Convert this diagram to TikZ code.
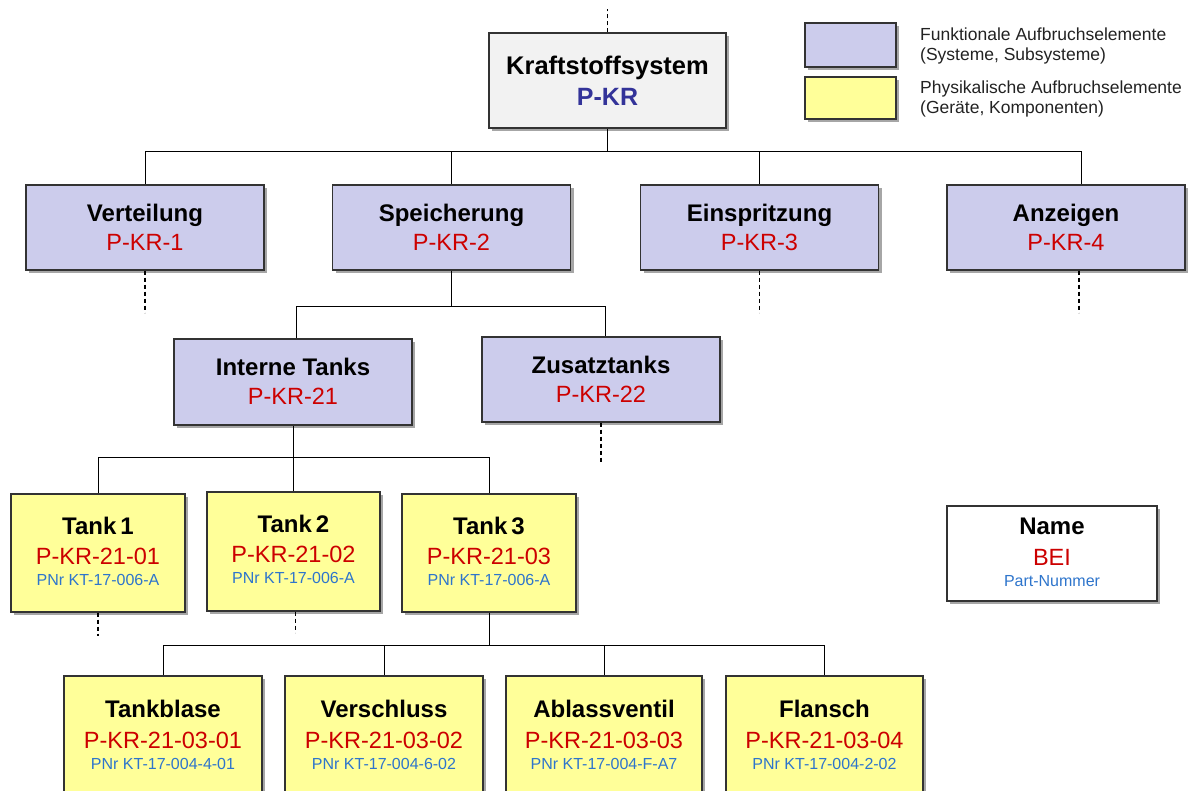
\documentclass[tikz,border=0pt]{standalone}
\usepackage{fontspec}
\setmainfont{Liberation Sans}
\usetikzlibrary{shadows}

\definecolor{lav}{RGB}{204,204,236}
\definecolor{yel}{RGB}{255,255,153}
\definecolor{lightgray}{RGB}{242,242,242}
\definecolor{edge}{RGB}{51,51,51}
\definecolor{codered}{RGB}{204,0,0}
\definecolor{navy}{RGB}{51,51,153}
\definecolor{pnblue}{RGB}{46,117,204}
\definecolor{legendtext}{RGB}{34,34,34}

\begin{document}
\begin{tikzpicture}[x=1pt,y=-1pt,
  boxbase/.style={draw=edge, line width=1.3pt, inner sep=0pt,
    drop shadow={shadow xshift=3pt, shadow yshift=-3pt, opacity=0.35, fill=black}},
  rootbox/.style={boxbase, fill=lightgray, minimum width=237pt, minimum height=95pt},
  funcbox/.style={boxbase, fill=lav, minimum width=238pt, minimum height=85pt},
  physbox/.style={boxbase, fill=yel, minimum width=174pt, minimum height=118pt},
  partbox/.style={boxbase, fill=yel, minimum width=198pt, minimum height=118pt},
  keybox/.style={boxbase, fill=white, minimum width=210pt, minimum height=95pt},
  swatch/.style={boxbase, minimum width=91pt},
  ttl/.style={anchor=base, inner sep=0pt, font=\fontsize{24}{28}\selectfont\bfseries},
  code/.style={anchor=base, inner sep=0pt, text=codered, font=\fontsize{23.5}{28}\selectfont},
  pnr/.style={anchor=base, inner sep=0pt, text=pnblue, font=\fontsize{16}{19}\selectfont},
  legend/.style={anchor=base west, inner sep=0pt, text=legendtext, font=\fontsize{17.5}{20}\selectfont},
  link/.style={draw=black, line width=1pt},
  stub/.style={draw=black, line width=1.1pt, dash pattern=on 4pt off 3pt}
]
\clip (0,0) rectangle (1192,791);

% ---------- root ----------
\node[rootbox] (kr) at (607.5,80.5) {};
\node[ttl, font=\fontsize{25.5}{30}\selectfont\bfseries] (kr-t) at ([yshift=-42pt]kr.north) {Kraftstoffsystem};
\node[ttl, text=navy, font=\fontsize{25}{30}\selectfont\bfseries] (kr-c) at ([yshift=-73pt]kr.north) {P-KR};

% ---------- level 1 ----------
\node[funcbox] (vert) at (145,227.5) {};
\node[funcbox] (spei) at (451.5,227.5) {};
\node[funcbox] (einsp) at (759.5,227.5) {};
\node[funcbox] (anz) at (1066,227.5) {};
\foreach \n/\t/\c in {vert/Verteilung/P-KR-1, spei/Speicherung/P-KR-2,
                      einsp/Einspritzung/P-KR-3, anz/Anzeigen/P-KR-4}{
  \node[ttl] (\n-t) at ([yshift=-37pt]\n.north) {\t};
  \node[code] (\n-c) at ([yshift=-66pt]\n.north) {\c};
}

% ---------- level 2 ----------
\node[funcbox, minimum height=86pt] (intern) at (293,382) {};
\node[funcbox] (zusatz) at (601,379.5) {};
\foreach \n/\t/\c in {intern/Interne Tanks/P-KR-21, zusatz/Zusatztanks/P-KR-22}{
  \node[ttl] (\n-t) at ([yshift=-37pt]\n.north) {\t};
  \node[code] (\n-c) at ([yshift=-66pt]\n.north) {\c};
}

% ---------- level 3 ----------
\node[physbox] (tank1) at (98,553) {};
\node[physbox, minimum width=173pt, minimum height=119pt] (tank2) at (293.5,551.5) {};
\node[physbox] (tank3) at (489,553) {};
\foreach \n/\t/\c in {tank1/1/01, tank2/2/02, tank3/3/03}{
  \node[ttl] (\n-t) at ([yshift=-41pt]\n.north) {Tank\,\t};
  \node[code] (\n-c) at ([yshift=-71pt]\n.north) {P-KR-21-\c};
  \node[pnr] (\n-p) at ([yshift=-92pt]\n.north) {PNr KT-17-006-A};
}

% ---------- level 4 ----------
\node[partbox] (blase) at (163,735) {};
\node[partbox] (versch) at (384,735) {};
\node[partbox, minimum width=196pt] (ablass) at (604,735) {};
\node[partbox, minimum width=197pt] (flansch) at (824.5,735) {};
\foreach \n/\t/\c/\p in {blase/Tankblase/01/4-01, versch/Verschluss/02/6-02,
                         ablass/Ablassventil/03/F-A7, flansch/Flansch/04/2-02}{
  \node[ttl] (\n-t) at ([yshift=-42pt]\n.north) {\t};
  \node[code] (\n-c) at ([yshift=-73pt]\n.north) {P-KR-21-03-\c};
  \node[pnr] (\n-p) at ([yshift=-94pt]\n.north) {PNr KT-17-004-\p};
}

% ---------- key box ----------
\node[keybox] (key) at (1052,553.5) {};
\node[ttl] (key-t) at ([yshift=-29pt]key.north) {Name};
\node[code] (key-c) at ([yshift=-60pt]key.north) {BEI};
\node[pnr] (key-p) at ([yshift=-81pt]key.north) {Part-Nummer};

% ---------- legend ----------
\node[swatch, fill=lav, minimum height=44pt] (sw-func) at (850.5,45) {};
\node[swatch, fill=yel, minimum height=42pt] (sw-phys) at (850.5,98) {};
\node[legend] (lg-func1) at (920,41) {Funktionale Aufbruchselemente};
\node[legend] (lg-func2) at (920,61) {(Systeme, Subsysteme)};
\node[legend] (lg-phys1) at (920,94) {Physikalische Aufbruchselemente};
\node[legend] (lg-phys2) at (920,114) {(Geräte, Komponenten)};

% ---------- connectors ----------
\coordinate (bus1) at (607,152);
\draw[link] (kr.south) -- (kr.south |- bus1);
\draw[link] (bus1) -| (vert.north);
\draw[link] (bus1) -| (spei.north);
\draw[link] (bus1) -| (einsp.north);
\draw[link] (bus1) -| ([xshift=15pt]anz.north);

\coordinate (bus2) at (450,307);
\draw[link] (spei.south) -- (spei.south |- bus2);
\draw[link] (spei.south |- bus2) -| ([xshift=3pt]intern.north);
\draw[link] (spei.south |- bus2) -| ([xshift=4pt]zusatz.north);

\coordinate (bus3) at (292,458);
\draw[link] (intern.south) -- (intern.south |- bus3);
\draw[link] (intern.south |- bus3) -| (tank1.north);
\draw[link] (intern.south |- bus3) -| (tank2.north);
\draw[link] (intern.south |- bus3) -| (tank3.north);

\coordinate (bus4) at (489,645);
\draw[link] (tank3.south) -- (tank3.south |- bus4);
\draw[link] (tank3.south |- bus4) -| (blase.north);
\draw[link] (tank3.south |- bus4) -| (versch.north);
\draw[link] (tank3.south |- bus4) -| (ablass.north);
\draw[link] (tank3.south |- bus4) -| (flansch.north);

% ---------- open continuations ----------
\draw[stub] (kr.north) -- ++(0,-23);
\draw[stub] (vert.south) -- ++(0,42);
\draw[stub] (einsp.south) -- ++(0,42);
\draw[stub] ([xshift=13pt]anz.south) -- ++(0,42);
\draw[stub] (zusatz.south) -- ++(0,40);
\draw[stub] (tank1.south) -- ++(0,23);
\draw[stub] ([xshift=2pt]tank2.south) -- ++(0,21);
\end{tikzpicture}
\end{document}
